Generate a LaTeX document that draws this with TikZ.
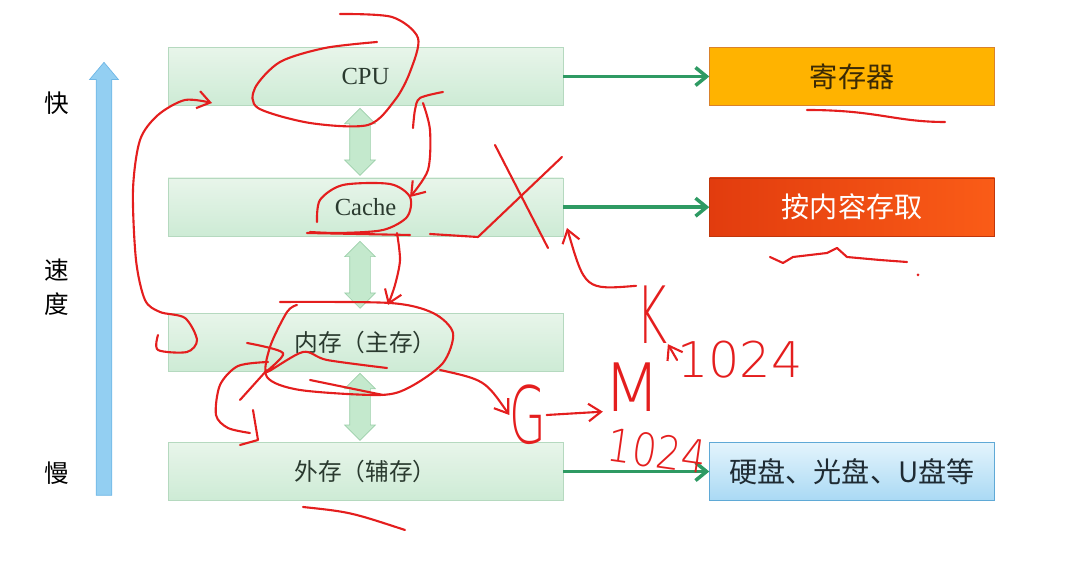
\documentclass[tikz,border=0pt]{standalone}
\usepackage{fontspec}
\usepackage{graphicx}
\setmainfont{Liberation Serif}
\newfontfamily\cjk{Noto Sans CJK SC}
\newfontfamily\penfont{DejaVuSans-ExtraLight}[Extension=.ttf]
\usepackage{tikz}
\usetikzlibrary{arrows.meta,positioning,shapes.arrows}
\definecolor{LvTop}{HTML}{E8F5EA}
\definecolor{LvBot}{HTML}{CDEBD5}
\definecolor{LvEdge}{HTML}{B5D9BF}
\definecolor{LvText}{HTML}{2A3A2F}
\definecolor{Link}{HTML}{2E9A63}
\definecolor{ArFill}{HTML}{C4E9CD}
\definecolor{ArEdge}{HTML}{9CCFAA}
\definecolor{SpeedFill}{HTML}{93CFF2}
\definecolor{SpeedEdge}{HTML}{6FB7E6}
\definecolor{RegFill}{HTML}{FFB300}
\definecolor{RegEdge}{HTML}{D9822B}
\definecolor{RegText}{HTML}{3B2A05}
\definecolor{AsLeft}{HTML}{E23C0E}
\definecolor{AsRight}{HTML}{FA5C17}
\definecolor{AsEdge}{HTML}{C0360C}
\definecolor{DiskTop}{HTML}{E4F4FC}
\definecolor{DiskBot}{HTML}{A9D9F4}
\definecolor{DiskEdge}{HTML}{5FA9D6}
\definecolor{DiskText}{HTML}{1F2B33}
\definecolor{Pen}{HTML}{E41E1E}

\begin{document}
\begin{tikzpicture}[
        x=0.02cm,y=-0.02cm,
        every node/.style={font=\fontsize{14}{16}\selectfont},
        level/.style={draw=LvEdge,top color=LvTop,bottom color=LvBot,text=LvText,minimum width=7.9cm,minimum height=1.17cm,inner sep=0pt},
        kind/.style={minimum width=5.7cm,minimum height=1.17cm,inner sep=0pt,font=\cjk\fontsize{16}{18}\selectfont},
        link/.style={-{Straight Barb[length=2.2mm,width=3.6mm]},line width=2pt,draw=Link},
        updown/.style={double arrow,rotate=90,draw=ArEdge,fill=ArFill,minimum height=1.34cm,minimum width=0pt,inner xsep=0pt,inner ysep=0.2cm,double arrow head extend=0.1cm},
        speedbar/.style={single arrow,rotate=90,draw=SpeedEdge,fill=SpeedFill,minimum height=8.66cm,minimum width=0pt,inner xsep=0pt,inner ysep=0.15cm,single arrow head extend=0.13cm,single arrow tip angle=80},
        pen/.style={draw=Pen,line width=1.2pt,line cap=round,line join=round},
        penarrow/.style={pen,-{Straight Barb[length=2.5mm,width=3.5mm]}},
        pentext/.style={text=Pen,font=\penfont\fontsize{#1}{#1}\selectfont,inner sep=0pt}
      ]
      \useasboundingbox (0,0) rectangle (1083,573);

      % memory levels
      \node[level] (cpu) at (365.5,76.5) {CPU};
      \node[level,below=1.43cm of cpu] (cache) {Cache};
      \node[level,below=1.52cm of cache] (main) {\cjk\fontsize{13.5}{16}\selectfont 内存（主存）};
      \node[level,below=1.4cm of main] (aux) {\cjk\fontsize{13.5}{16}\selectfont 外存（辅存）};

      \node[kind,fill=RegFill,draw=RegEdge,text=RegText,right=2.92cm of cpu] (reg) {寄存器};
      \node[kind,left color=AsLeft,right color=AsRight,draw=AsEdge,text=white,right=2.92cm of cache] (assoc) {按内容存取};
      \node[kind,top color=DiskTop,bottom color=DiskBot,draw=DiskEdge,text=DiskText,right=2.92cm of aux] (disk) {硬盘、光盘、U盘等};

      \draw[link] (cpu) -- (reg);
      \draw[link] (cache) -- (assoc);
      \draw[link] (aux) -- (disk);

      \path (cpu.south) -- (cache.north) node[midway,xshift=-0.11cm,updown] (up1) {};
      \path (cache.south) -- (main.north) node[midway,xshift=-0.11cm,updown] (up2) {};
      \path (main.south) -- (aux.north) node[midway,xshift=-0.11cm,updown] (up3) {};

      % speed scale
      \node[speedbar] (speed) at (104,283.5) {};
      \node (fast) at (57,103) {\cjk 快};
      \node[align=center,font=\cjk\fontsize{14}{19}\selectfont] (rate) at (57,287) {速\\度};
      \node (slow) at (57,473) {\cjk 慢};

      % hand notes
      \node[pentext=45] (k) at (652,315) {\scalebox{0.6}[1]{K}};
      \node[pentext=28] (kilo) at (740,360) {1024};
      \node[pentext=38] (m) at (632,387) {M};
      \node[pentext=45] (g) at (528,415) {\scalebox{0.6}[1]{G}};
      \node[pentext=26,rotate=-8] (mega) at (657,451) {\scalebox{0.85}[1]{1024}};

      \draw[pen] plot[smooth] coordinates {(340,14) (392,17) (418,38) (410,72) (395,100) (368,125) (310,123) (258,108) (255,88) (280,62) (325,48) (377,42)};
      \draw[penarrow] plot[smooth] coordinates {(158,335) (158,350) (187,352) (197,340) (185,318) (160,312) (145,300) (136,260) (133,190) (140,140) (158,115) (185,100) (212,103)};
      \draw[pen] plot[smooth] coordinates {(443,92) (420,98) (415,110) (413,128)};
      \draw[penarrow] plot[smooth] coordinates {(423,103) (430,130) (428,170) (410,197)};
      \draw[pen] plot[smooth] coordinates {(317,222) (320,200) (343,185) (390,184) (410,197) (407,217) (383,230) (340,233) (310,232)};
      \draw[pen] (307,233) -- (410,235);
      \draw[pen] (430,234) -- (478,237) -- (562,157);
      \draw[pen] (495,145) -- (548,248);
      \draw[penarrow] plot[smooth] coordinates {(397,233) (400,260) (395,285) (388,305)};
      \draw[pen] plot[smooth] coordinates {(280,302) (390,303) (433,313) (453,333) (443,363) (410,387) (380,395) (300,390) (267,377) (270,347) (287,312) (297,305)};
      \draw[pen] plot[smooth] coordinates {(247,343) (283,353) (267,372) (303,352) (327,360) (387,368)};
      \draw[pen] (310,380) -- (383,395);
      \draw[pen] plot[smooth] coordinates {(268,362) (238,366) (220,385) (216,415) (228,428) (250,433)};
      \draw[pen] (240,400) -- (267,370);
      \draw[pen] (253,410) -- (258,440) -- (240,445);
      \draw[penarrow] (440,370) .. controls (485,380) .. (g.west);
      \draw[penarrow] (g.east) .. controls (580,413) .. (m.south west);
      \draw[penarrow] (k.north west) .. controls (585,290) .. (567,228);
      \draw[penarrow] (kilo.west) -- (k.south east);
      \draw[pen] (807,110) .. controls (877,110) and (895,122) .. (945,122);
      \draw[pen] (770,257) -- (783,263) -- (793,257) -- (827,253) -- (837,248) -- (847,257) -- (880,260) -- (907,262);
      \fill[Pen] (918,275) circle (1.5);
      \draw[pen] (303,507) .. controls (350,512) .. (405,530);
    \end{tikzpicture}
\end{document}
